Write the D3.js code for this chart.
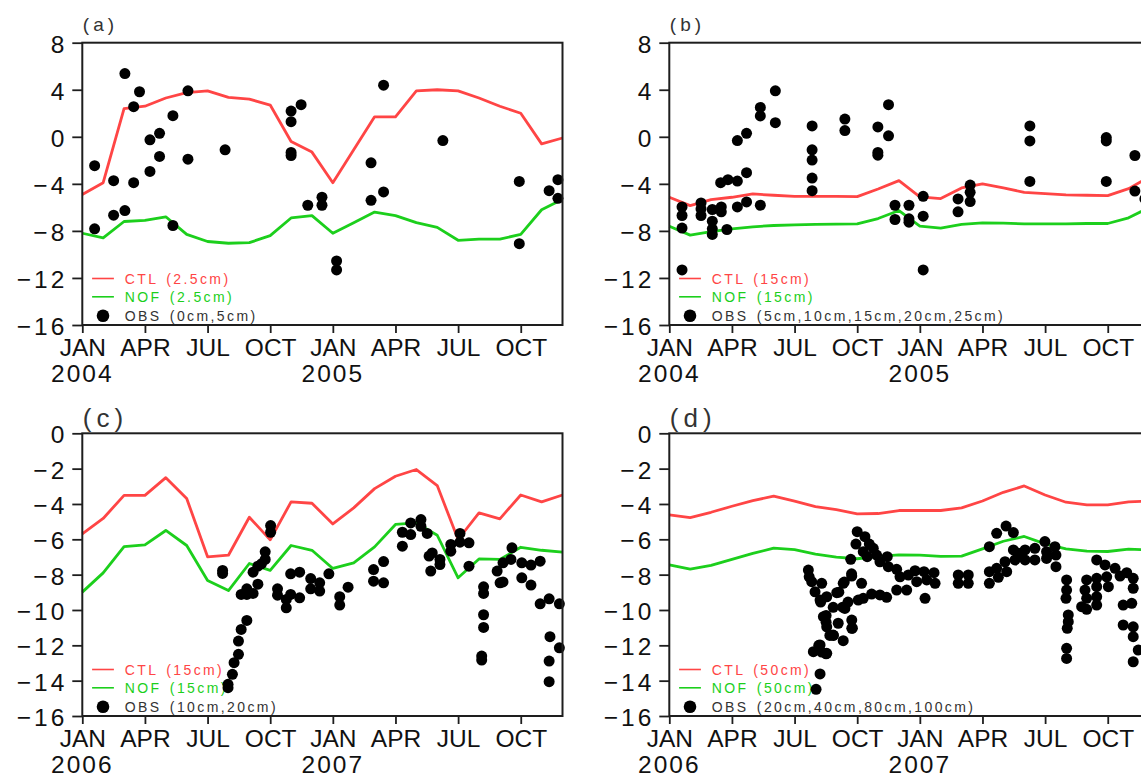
<!DOCTYPE html>
<html>
<head>
<meta charset="utf-8">
<script src="https://cdn.jsdelivr.net/npm/d3@7"></script>
<style>
  body { margin: 0; background: #fff; }
  svg { display: block; font-family: "Liberation Sans", Arial, sans-serif; }
  .legend text { white-space: pre; }
</style>
</head>
<body>
<svg id="chart" width="1141" height="781"></svg>
<script>
// ---- axis labels ----
const monthTickIdx = [0, 3, 6, 9, 12, 15, 18, 21];
const monthNames = ["JAN", "APR", "JUL", "OCT", "JAN", "APR", "JUL", "OCT"];
const yearsTop = ["2004", "2005"];
const yearsBottom = ["2006", "2007"];
const yTicksTop = [8, 4, 0, -4, -8, -12, -16];
const yTicksBottom = [0, -2, -4, -6, -8, -10, -12, -14, -16];

// ---- monthly model series (Jan .. Dec, two years) ----
const ctlA = [-4.9, -3.9, 2.4, 2.6, 3.3, 3.75, 3.9, 3.35, 3.2, 2.7, -0.4, -1.3,
              -3.9, -1.1, 1.7, 1.7, 3.9, 4.0, 3.9, 3.3, 2.6, 2.0, -0.6, -0.1];
const nofA = [-8.2, -8.6, -7.2, -7.1, -6.8, -8.3, -8.9, -9.05, -9.0, -8.4, -6.9, -6.7,
              -8.2, -7.3, -6.4, -6.7, -7.3, -7.7, -8.8, -8.7, -8.7, -8.3, -6.2, -5.3];

const ctlB = [-5.14, -5.85, -5.34, -5.14, -4.86, -4.97, -5.06, -5.06, -5.06, -5.09, -4.44, -3.73,
              -5.11, -5.25, -4.35, -4.01, -4.35, -4.72, -4.83, -4.94, -4.97, -5.0, -4.41, -3.4];
const nofB = [-7.6, -8.36, -8.07, -7.82, -7.65, -7.54, -7.48, -7.45, -7.43, -7.4, -6.95, -6.27,
              -7.6, -7.76, -7.45, -7.31, -7.34, -7.4, -7.4, -7.4, -7.37, -7.37, -6.89, -6.0];

const ctlC = [-5.69, -4.82, -3.51, -3.51, -2.51, -3.69, -6.99, -6.9, -4.75, -6.03, -3.88, -3.96,
              -5.13, -4.22, -3.13, -2.43, -2.05, -2.96, -6.01, -4.5, -4.84, -3.49, -3.88, -3.49];
const nofC = [-8.99, -7.9, -6.41, -6.31, -5.5, -6.35, -8.33, -8.9, -7.37, -7.76, -6.35, -6.62,
              -7.65, -7.33, -6.43, -5.16, -5.07, -5.77, -8.18, -7.11, -7.14, -6.45, -6.62, -6.73];

const ctlD = [-4.62, -4.77, -4.47, -4.13, -3.81, -3.56, -3.84, -4.15, -4.32, -4.56, -4.54, -4.37,
              -4.37, -4.37, -4.22, -3.83, -3.34, -2.98, -3.49, -3.9, -4.05, -4.05, -3.88, -3.84];
const nofD = [-7.44, -7.69, -7.48, -7.14, -6.8, -6.5, -6.58, -6.84, -7.01, -7.1, -6.97, -6.88,
              -6.9, -6.97, -6.95, -6.54, -6.11, -5.84, -6.26, -6.54, -6.67, -6.69, -6.56, -6.6];

// ---- observations: [month offset from first January, value] ----
const obsA = [[0.59,-2.46],[0.59,-7.82],[1.5,-3.73],[1.5,-6.66],[2.04,5.38],[2.04,-6.27],
  [2.46,2.56],[2.46,-3.9],[2.74,3.83],[3.24,-0.26],[3.24,-2.94],[3.7,0.3],[3.7,-1.67],
  [4.34,1.8],[4.34,-7.54],[5.06,3.91],[5.06,-1.9],[6.84,-1.11],[10.0,2.19],[10.0,1.29],
  [10.0,-1.33],[10.0,-1.59],[10.48,2.73],[10.8,-5.82],[11.48,-5.14],[11.48,-5.82],
  [12.18,-10.56],[12.18,-11.32],[13.83,-2.21],[13.83,-5.4],[14.43,4.39],[14.43,-4.69],
  [17.27,-0.32],[20.93,-3.79],[20.93,-9.09],[22.36,-4.58],[22.78,-3.65],[22.78,-5.23]];

const obsB = [[0.61,-5.96],[0.61,-6.69],[0.61,-7.76],[0.61,-11.32],[1.52,-5.62],[1.52,-6.13],
  [1.52,-6.69],[2.06,-6.18],[2.06,-7.17],[2.06,-7.82],[2.06,-8.3],[2.49,-5.96],[2.49,-6.38],
  [2.76,-7.88],[2.46,-3.9],[2.81,-3.65],[3.26,-3.76],[3.26,-5.96],[3.26,-0.32],[3.7,0.3],
  [3.7,-3.05],[3.7,-5.54],[4.36,2.5],[4.36,1.77],[4.36,-5.82],[5.08,3.91],[5.08,1.2],
  [6.84,0.92],[6.84,-1.11],[6.84,-1.98],[6.84,-3.51],[6.84,-4.58],[8.41,1.51],[8.41,0.53],
  [9.99,0.84],[9.99,-1.33],[9.99,-1.56],[10.5,2.73],[10.5,0.08],[10.81,-5.82],[10.81,-7.03],
  [11.48,-5.82],[11.48,-6.97],[11.48,-7.26],[12.16,-5.06],[12.16,-6.75],[12.16,-11.32],
  [13.83,-5.28],[13.83,-6.38],[14.41,-4.1],[14.41,-4.72],[14.41,-5.51],[17.27,0.92],
  [17.27,-0.35],[17.27,-3.79],[20.93,-0.07],[20.93,-0.35],[20.93,-3.79],[22.3,-1.59],
  [22.3,-4.61],[22.78,-5.28]];

const obsC = [[6.72,-7.76],[6.72,-7.93],[6.98,-14.21],[6.98,-14.4],[7.19,-13.64],[7.27,-12.98],
  [7.48,-12.51],[7.48,-11.76],[7.61,-11.1],[7.88,-10.59],[7.61,-9.12],[7.88,-8.8],[7.88,-9.12],
  [8.18,-7.86],[8.18,-9.06],[8.41,-7.52],[8.41,-8.54],[8.58,-7.39],[8.76,-6.71],[8.76,-7.14],
  [9.02,-5.22],[9.02,-5.6],[9.35,-8.8],[9.35,-9.16],[9.77,-9.4],[9.77,-9.88],[9.98,-7.95],
  [9.98,-9.12],[10.41,-7.86],[10.41,-9.31],[10.94,-8.22],[10.94,-8.8],[11.37,-8.46],
  [11.37,-8.93],[11.81,-7.95],[12.33,-9.25],[12.33,-9.72],[12.73,-8.71],[13.95,-7.71],
  [13.95,-8.37],[14.43,-7.26],[14.43,-8.46],[15.33,-5.6],[15.33,-6.39],[15.73,-5.07],
  [15.73,-5.73],[16.22,-4.88],[16.22,-5.26],[16.52,-5.67],[16.61,-6.95],[16.69,-7.8],
  [16.76,-6.77],[17.13,-7.14],[17.13,-7.43],[17.65,-6.29],[17.65,-6.67],[18.09,-5.67],
  [18.09,-6.16],[18.52,-6.2],[18.52,-7.52],[19.22,-8.69],[19.22,-9.06],[19.22,-10.27],
  [19.22,-10.99],[19.13,-12.61],[19.13,-12.83],[19.87,-7.8],[20.01,-8.46],[20.15,-7.33],
  [20.15,-8.41],[20.53,-7.14],[20.58,-6.48],[21.05,-7.33],[21.05,-8.18],[21.49,-7.46],
  [21.49,-8.59],[21.93,-7.24],[21.93,-9.65],[22.36,-9.37],[22.4,-11.51],[22.36,-12.89],
  [22.36,-14.06],[22.85,-9.65],[22.85,-12.14]];

const obsD = [[9.0,-5.57],[9.37,-5.85],[8.94,-6.27],[9.58,-6.27],[9.77,-6.51],[9.29,-6.7],
  [9.93,-6.89],[9.48,-6.98],[8.69,-7.13],[10.44,-6.98],[10.09,-7.27],[10.49,-7.55],
  [10.89,-7.7],[11.05,-8.12],[11.45,-8.02],[11.77,-7.78],[12.2,-7.83],[12.68,-7.89],
  [12.73,-8.49],[12.33,-8.3],[11.85,-8.4],[11.37,-8.87],[10.89,-8.87],[12.25,-9.34],
  [10.41,-9.28],[10.09,-9.15],[9.69,-9.1],[9.29,-9.34],[9.05,-9.44],[9.21,-8.49],
  [8.74,-8.08],[8.33,-8.49],[8.02,-9.02],[7.85,-9.85],[8.41,-9.91],[7.38,-10.38],
  [8.74,-10.57],[7.54,-10.95],[8.09,-10.75],[8.74,-11.04],[7.85,-11.42],[8.33,-11.74],
  [7.22,-11.98],[6.9,-12.36],[7.54,-12.45],[7.22,-13.62],[7.03,-14.49],[6.66,-7.74],
  [6.7,-8.12],[6.82,-8.4],[7.3,-8.49],[6.98,-8.97],[7.54,-9.25],[7.22,-9.44],
  [7.51,-10.31],[7.51,-10.69],[7.86,-11.44],[8.3,-9.84],[8.56,-9.55],[8.77,-11.03],
  [8.12,-8.99],[8.38,-8.42],[8.73,-7.95],[7.25,-9.55],[7.69,-11.44],[7.16,-12.0],
  [7.51,-12.48],[7.3,-12.38],
  [13.84,-8.02],[13.84,-8.49],[14.32,-8.02],[14.32,-8.49],[15.33,-6.42],[15.68,-5.66],
  [16.13,-5.25],[16.48,-5.62],[15.33,-7.83],[15.33,-8.49],[15.76,-8.15],[15.68,-7.64],
  [16.08,-7.27],[16.16,-7.83],[16.48,-6.6],[16.72,-6.79],[16.56,-7.17],[17.04,-6.6],
  [17.04,-7.17],[17.51,-6.51],[17.51,-7.17],[17.99,-6.13],[18.07,-6.7],[18.07,-7.08],
  [18.47,-6.42],[18.52,-6.89],[18.52,-7.55],[19.03,-8.3],[19.03,-8.87],[19.0,-9.34],
  [19.11,-10.28],[19.11,-10.66],[19.06,-11.04],[19.03,-12.17],[19.03,-12.74],[19.99,-8.3],
  [19.91,-8.87],[19.99,-9.34],[19.75,-9.81],[19.99,-9.96],[20.47,-7.17],[20.87,-7.45],
  [20.47,-8.21],[20.47,-8.68],[20.47,-9.25],[20.47,-9.72],[20.95,-8.12],[21.03,-8.68],
  [21.35,-7.64],[21.59,-8.08],[21.91,-7.89],[22.22,-8.21],[22.22,-8.77],[21.74,-9.72],
  [22.15,-9.62],[21.74,-10.85],[22.22,-10.95],[22.22,-11.51],[22.22,-12.93],[22.46,-12.27]];

// ---- styling ----
const RED = "#ff4545";
const GREEN = "#1ccf1c";
const INK = "#1e1e1e";
const plotW = 480.2;

const svg = d3.select("#chart");

const panels = [
  { left: 82.3,  top: 42.7,  h: 282.3, dom: [8, -16], ticks: yTicksTop, years: yearsTop,
    ctl: ctlA, nof: nofA, obs: obsA, tag: "(a)", tagSize: 19, depth: "2.5cm", obsDepth: "0cm,5cm" },
  { left: 669.3, top: 42.7,  h: 282.3, dom: [8, -16], ticks: yTicksTop, years: yearsTop,
    ctl: ctlB, nof: nofB, obs: obsB, tag: "(b)", tagSize: 19, depth: "15cm", obsDepth: "5cm,10cm,15cm,20cm,25cm" },
  { left: 82.3,  top: 433.3, h: 282.7, dom: [0, -16], ticks: yTicksBottom, years: yearsBottom,
    ctl: ctlC, nof: nofC, obs: obsC, tag: "(c)", tagSize: 26, depth: "15cm", obsDepth: "10cm,20cm" },
  { left: 669.3, top: 433.3, h: 282.7, dom: [0, -16], ticks: yTicksBottom, years: yearsBottom,
    ctl: ctlD, nof: nofD, obs: obsD, tag: "(d)", tagSize: 26, depth: "50cm", obsDepth: "20cm,40cm,80cm,100cm" }
];

const fmtNum = v => (v < 0 ? "\u2212" + Math.abs(v) : String(v));

panels.forEach(p => {
  const g = svg.append("g").attr("transform", `translate(${p.left},${p.top})`);
  const x = d3.scaleLinear().domain([0, 23]).range([0, plotW]);
  const y = d3.scaleLinear().domain(p.dom).range([0, p.h]);

  // panel tag
  g.append("text")
    .attr("x", 0.5)
    .attr("y", p.tagSize > 20 ? -6.6 : -11.7)
    .attr("font-size", p.tagSize)
    .attr("letter-spacing", p.tagSize > 20 ? 5 : 4)
    .attr("fill", "#333")
    .text(p.tag);

  // y axis
  const ya = g.append("g").call(
    d3.axisLeft(y).tickValues(p.ticks).tickSize(10).tickSizeOuter(0).tickFormat(fmtNum));
  ya.select(".domain").remove();
  ya.selectAll(".tick line").attr("stroke", INK).attr("stroke-width", 1.8);
  ya.selectAll(".tick text")
    .attr("x", -15)
    .attr("dy", 9.5)
    .attr("font-size", 24.5)
    .attr("letter-spacing", 3)
    .attr("fill", "#111");

  // x axis
  const xa = g.append("g").attr("transform", `translate(0,${p.h})`).call(
    d3.axisBottom(x).tickValues(monthTickIdx).tickSize(8).tickSizeOuter(0)
      .tickFormat((d, i) => monthNames[i]));
  xa.select(".domain").remove();
  xa.selectAll(".tick line").attr("stroke", INK).attr("stroke-width", 1.8);
  xa.selectAll(".tick text")
    .attr("y", 31.3)
    .attr("dy", 0)
    .attr("font-size", 24.5)
    .attr("fill", "#111");
  xa.selectAll(".yr").data(p.years).join("text")
    .attr("class", "yr")
    .attr("x", (d, i) => x(i * 12))
    .attr("y", 57.3)
    .attr("text-anchor", "middle")
    .attr("font-size", 24.5)
    .attr("letter-spacing", 2)
    .attr("fill", "#111")
    .text(d => d);
  xa.attr("font-family", null);
  ya.attr("font-family", null);

  // model lines
  const line = d3.line().x((d, i) => x(i)).y(d => y(d));
  g.append("path").datum(p.nof).attr("d", line)
    .attr("fill", "none").attr("stroke", GREEN).attr("stroke-width", 2.8)
    .attr("stroke-linejoin", "round");
  g.append("path").datum(p.ctl).attr("d", line)
    .attr("fill", "none").attr("stroke", RED).attr("stroke-width", 2.8)
    .attr("stroke-linejoin", "round");

  // legend
  const lg = g.append("g").attr("class", "legend")
    .attr("font-size", 14).attr("letter-spacing", 2.4).attr("word-spacing", 2);
  const rows = [
    { label: `CTL (${p.depth})`, color: RED, y: p.h - 46.5, kind: "line" },
    { label: `NOF (${p.depth})`, color: GREEN, y: p.h - 28.2, kind: "line" },
    { label: `OBS (${p.obsDepth})`, color: "#333", y: p.h - 9.3, kind: "dot" }
  ];
  rows.forEach(r => {
    if (r.kind === "line") {
      lg.append("line").attr("x1", 9.8).attr("x2", 31.6).attr("y1", r.y).attr("y2", r.y)
        .attr("stroke", r.color).attr("stroke-width", 1.6);
    } else {
      lg.append("circle").attr("cx", 20.7).attr("cy", r.y).attr("r", 6.3).attr("fill", "#000");
    }
    lg.append("text").attr("x", 42.5).attr("y", r.y).attr("dy", "0.36em")
      .attr("fill", r.color).text(r.label);
  });

  // observations
  g.append("g").selectAll("circle").data(p.obs).join("circle")
    .attr("cx", d => x(d[0]))
    .attr("cy", d => y(d[1]))
    .attr("r", 5.5)
    .attr("fill", "#000");

  // frame
  g.append("rect").attr("x", 0).attr("y", 0).attr("width", plotW).attr("height", p.h)
    .attr("fill", "none").attr("stroke", INK).attr("stroke-width", 2);
});
</script>
</body>
</html>
